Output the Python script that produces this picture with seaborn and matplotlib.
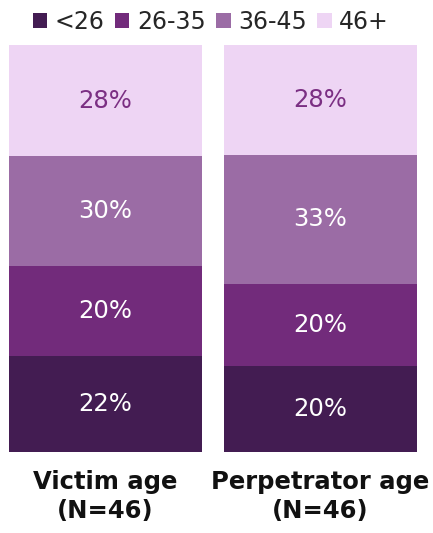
import matplotlib
matplotlib.use("Agg")
import matplotlib.pyplot as plt
from matplotlib.patches import Patch
import numpy as np
import pandas as pd
import seaborn as sns

# ---- data ----
groups = ["Victim age\n(N=46)", "Perpetrator age\n(N=46)"]
age_bands = ["<26", "26-35", "36-45", "46+"]
victim_values = [23.6, 22.1, 27.0, 27.3]
perpetrator_values = [21.1, 20.3, 31.6, 27.0]
victim_labels = ["22%", "20%", "30%", "28%"]
perpetrator_labels = ["20%", "20%", "33%", "28%"]

colors = ["#431c52", "#722b7b", "#9b6ca5", "#eed5f4"]
label_colors = ["white", "white", "white", "#7b2f83"]

sns.set_theme(style="white")
plt.rcParams["font.family"] = ["DejaVu Sans"]

fig = plt.figure(figsize=(4.33, 5.33), dpi=100)
ax = fig.add_axes([9 / 433, (533 - 452) / 533, 408 / 433, 407 / 533])

vals = np.array([victim_values, perpetrator_values])
labs = [victim_labels, perpetrator_labels]
cum = np.cumsum(vals, axis=1)

# draw cumulative layers from top to bottom so the stack shows
for i in range(len(age_bands) - 1, -1, -1):
    df = pd.DataFrame({"group": groups, "value": cum[:, i]})
    sns.barplot(data=df, x="group", y="value", color=colors[i], width=0.898,
                saturation=1, linewidth=0, edgecolor="none", ax=ax, order=groups)

for g in range(len(groups)):
    for i in range(len(age_bands)):
        yc = cum[g, i] - vals[g, i] / 2
        ax.text(g, yc, labs[g][i], ha="center", va="center", fontsize=17.5,
                color=label_colors[i])

ax.set_xlim(-0.45, 1.45)
ax.set_ylim(0, 100)
ax.set_xlabel("")
ax.set_ylabel("")
ax.set_yticks([])
for s in ax.spines.values():
    s.set_visible(False)
ax.tick_params(axis="x", length=0, pad=13)
for t in ax.get_xticklabels():
    t.set_fontsize(17.5)
    t.set_fontweight("bold")
    t.set_color("#111111")
    t.set_linespacing(1.25)

handles = [Patch(facecolor=c, edgecolor="none", label=l) for c, l in zip(colors, age_bands)]
fig.legend(handles=handles, loc="center", bbox_to_anchor=(211 / 433, 1 - 22 / 533),
           ncol=4, frameon=False, fontsize=17, handlelength=0.6, handleheight=0.6,
           handletextpad=0.32, columnspacing=0.45, borderpad=0, borderaxespad=0)

fig.savefig("out.png", dpi=100)
